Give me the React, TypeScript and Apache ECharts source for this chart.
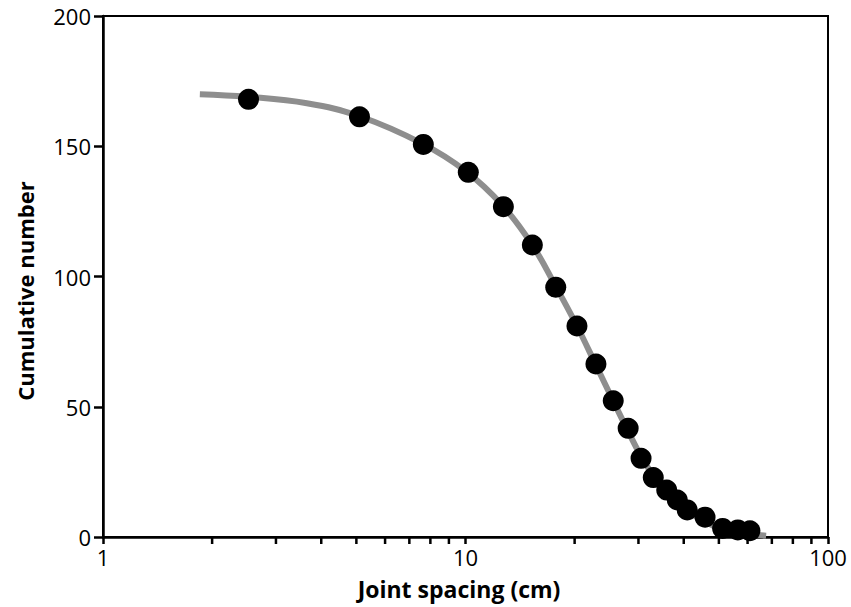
import React, { useEffect, useRef } from "react";
import * as echarts from "echarts";

const spacingCm = [2.52, 5.1, 7.65, 10.18, 12.72, 15.29, 17.74, 20.3, 22.9, 25.56, 28.1, 30.5, 32.96, 35.9, 38.4, 40.9, 45.8, 51.2, 56.4, 60.9];
const cumulative = [168, 161.3, 150.7, 140, 126.8, 112.1, 95.9, 81, 66.4, 52.3, 41.7, 30.2, 22.8, 18, 14.2, 10.4, 7.6, 3.3, 2.7, 2.4];

const fitX = [1.85, 2.5, 3.65, 5.1, 7.6, 10, 12.7, 15.3, 17.7, 20.3, 22.9, 25.6, 28, 30.5, 33, 36, 40, 45, 50, 56, 62, 67.5];
const fitY = [170, 169, 166.5, 161.5, 151, 140.5, 127, 112, 96.5, 81, 66, 52, 41, 31, 23.5, 17, 11, 6.5, 3.5, 2, 1, 0.5];

const minorTickValues = [2, 3, 4, 5, 6, 7, 8, 9, 20, 30, 40, 50, 60, 70, 80, 90];
const yTicks = [0, 50, 100, 150, 200];

const FONT = "'Open Sans', 'Noto Sans', sans-serif";

export default function App() {
  const ref = useRef<HTMLDivElement>(null);
  useEffect(() => {
    if (!ref.current) return;
    const chart = echarts.init(ref.current, undefined, { renderer: "svg" });
    chart.setOption({
      animation: false,
      backgroundColor: "#fff",
      grid: {
        left: 103,
        right: 23,
        top: 16,
        bottom: 70,
        show: true,
        borderColor: "#000",
        borderWidth: 2,
      },
      xAxis: {
        type: "log",
        logBase: 10,
        min: 1,
        max: 100,
        axisLine: { show: true, lineStyle: { color: "#000", width: 2.5 } },
        axisTick: { show: true, length: 7, lineStyle: { color: "#000", width: 2.5 } },
        axisLabel: { fontFamily: FONT, fontSize: 22, color: "#000", margin: 9 },
        splitLine: { show: false },
      },
      yAxis: {
        type: "value",
        min: 0,
        max: 200,
        interval: 50,
        axisLine: { show: true, lineStyle: { color: "#000", width: 2.5 } },
        axisTick: { show: true, length: 9, lineStyle: { color: "#000", width: 2.5 } },
        axisLabel: {
          fontFamily: FONT,
          fontSize: 22,
          color: "#000",
          margin: 12,
          formatter: (v: number) => (yTicks.includes(v) ? String(v) : ""),
        },
        splitLine: { show: false },
      },
      graphic: [
        {
          type: "text",
          x: 459,
          y: 589,
          style: {
            text: "Joint spacing (cm)",
            fontFamily: FONT,
            fontSize: 23,
            fontWeight: "bold",
            fill: "#000",
            align: "center",
            verticalAlign: "middle",
          },
        },
        {
          type: "text",
          x: 25,
          y: 291,
          rotation: Math.PI / 2,
          style: {
            text: "Cumulative number",
            fontFamily: FONT,
            fontSize: 22,
            fontWeight: "bold",
            fill: "#000",
            align: "center",
            verticalAlign: "middle",
          },
        },
      ],
      series: [
        {
          type: "custom",
          clip: false,
          silent: true,
          data: minorTickValues.map((v) => [v, 0]),
          renderItem: (params: any, api: any) => {
            const p = api.coord([api.value(0), 0]);
            return {
              type: "line",
              shape: { x1: p[0], y1: p[1], x2: p[0], y2: p[1] + 7 },
              style: { stroke: "#000", lineWidth: 2.5 },
            };
          },
        },
        {
          type: "line",
          data: fitX.map((x, i) => [x, fitY[i]]),
          smooth: 0.4,
          showSymbol: false,
          symbol: "none",
          lineStyle: { color: "#8e8e8e", width: 6, cap: "butt" },
          z: 2,
        },
        {
          type: "scatter",
          data: spacingCm.map((x, i) => [x, cumulative[i]]),
          symbol: "circle",
          symbolSize: 21,
          itemStyle: { color: "#000", opacity: 1 },
          z: 3,
        },
      ],
    });
    return () => chart.dispose();
  }, []);
  return (
    <div
      ref={ref}
      style={{ position: "fixed", left: 0, top: 0, width: 851, height: 607 }}
    />
  );
}
